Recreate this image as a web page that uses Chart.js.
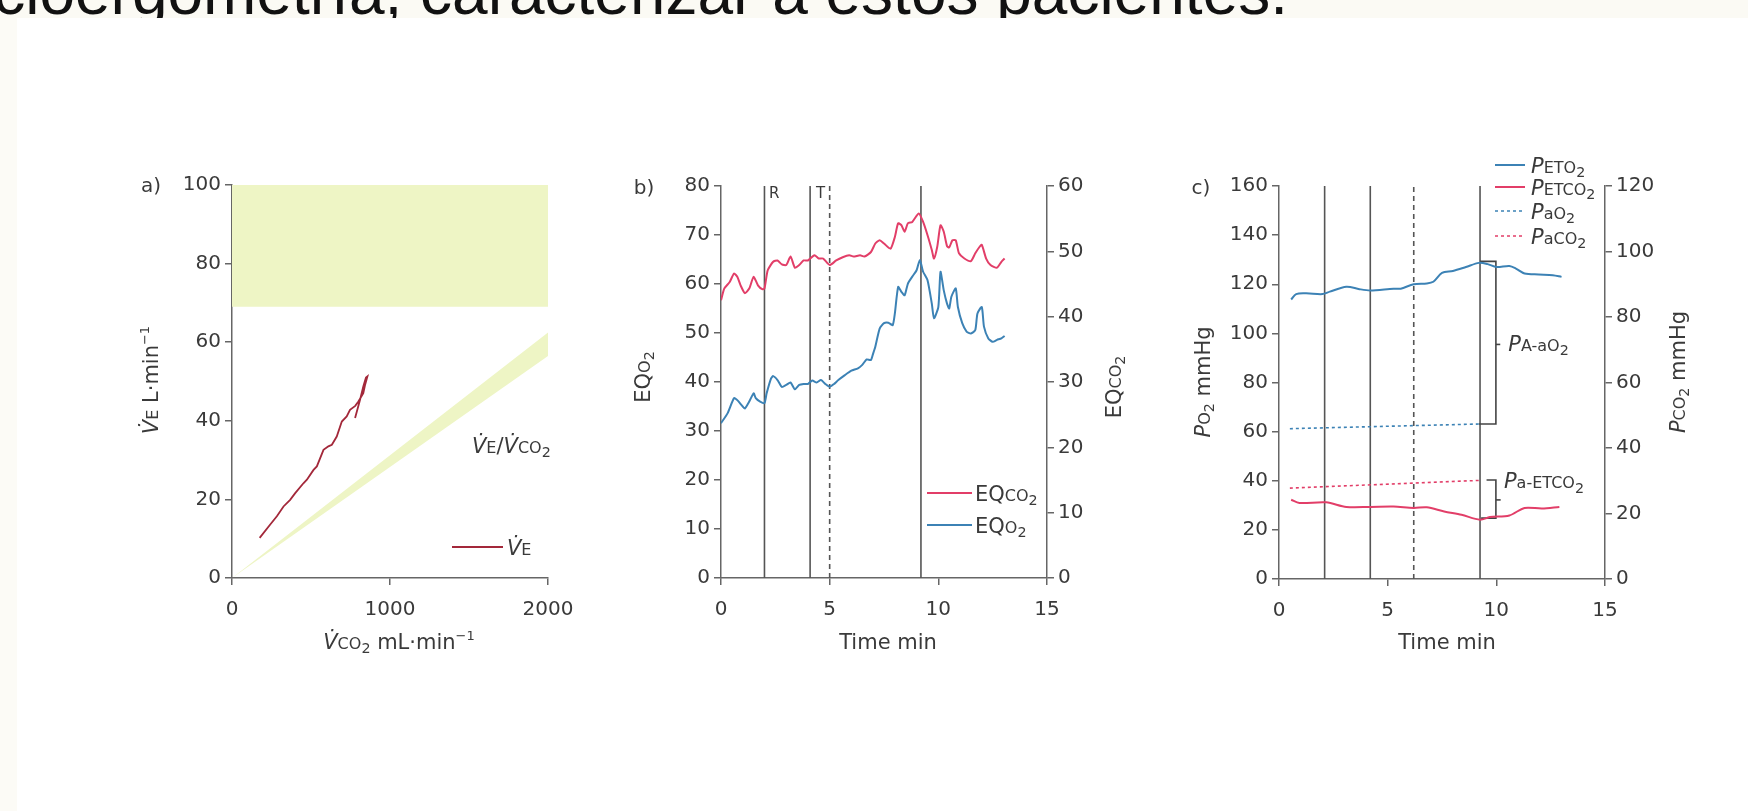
<!DOCTYPE html>
<html>
<head>
<meta charset="utf-8">
<script src="https://cdn.jsdelivr.net/npm/chart.js@4.4.0/dist/chart.umd.min.js"></script>
<style>
    html, body { margin: 0; padding: 0; background: #fff; }
    body { width: 1748px; height: 811px; position: relative; overflow: hidden; }
    #strip { position: absolute; left: 0; top: 0; width: 1748px; height: 18px; background: #fbfaf4; overflow: hidden; }
    #strip span { position: absolute; right: 460px; top: -40px; font: 64px/64px "Liberation Sans", Arial, sans-serif; color: #111; white-space: nowrap; }
    #side { position: absolute; left: 0; top: 18px; width: 17px; bottom: 0; background: #fcfbf6; }
    canvas { position: absolute; }
</style>
</head>
<body>
<div id="strip"><span>cicloergometría, caracterizar a estos pacientes.</span></div>
<div id="side"></div>
<canvas id="chartA" width="473" height="520" style="left:120px;top:140px"></canvas>
<canvas id="chartB" width="510" height="520" style="left:620px;top:140px"></canvas>
<canvas id="chartC" width="588" height="520" style="left:1160px;top:140px"></canvas>
<script>
    /* ─── data: panel a ─── */
    const vco2 = [175, 242, 284, 326, 368, 400, 452, 474, 516, 537, 579, 610, 632, 663, 695, 726, 747, 780, 800, 831, 842, 857, 848, 831, 810, 779];
    const ve = [10.2, 13.6, 15.7, 18.2, 19.9, 21.6, 24.1, 25, 27.5, 28.4, 32.6, 33.5, 33.9, 36, 39.8, 41.1, 42.8, 43.8, 44.9, 47, 49.1, 51.3, 51, 48.7, 45.3, 40.7];
    const bandX = [0, 2000];
    const bandTop = [100, 100];
    const bandBottom = [69, 69];
    const wedgeTop = [0, 62.5];
    const wedgeBottom = [0, 56.5];

    /* ─── data: panel b ─── */
    const tO2 = [0, 0.3, 0.6, 0.75, 1, 1.1, 1.3, 1.5, 1.6, 1.8, 2, 2.1, 2.3, 2.4, 2.6, 2.8, 3, 3.2, 3.4, 3.6, 3.8, 4, 4.2, 4.4, 4.6, 4.8, 5, 5.2, 5.4, 5.7, 6, 6.3, 6.5, 6.7, 6.9, 7, 7.1, 7.3, 7.5, 7.7, 7.9, 8, 8.15, 8.3, 8.45, 8.6, 8.8, 9, 9.15, 9.3, 9.5, 9.7, 9.8, 10, 10.1, 10.25, 10.4, 10.5, 10.6, 10.8, 10.9, 11.1, 11.3, 11.5, 11.7, 11.8, 12, 12.1, 12.3, 12.5, 12.7, 12.9, 13.05];
    const eqo2 = [31.6, 33.6, 36.7, 36.3, 35, 34.6, 36, 37.7, 36.7, 36, 35.7, 37.7, 40.7, 41.2, 40.4, 39, 39.4, 39.9, 38.5, 39.4, 39.6, 39.6, 40.3, 39.9, 40.4, 39.6, 39, 39.6, 40.4, 41.4, 42.3, 42.8, 43.5, 44.6, 44.5, 45.8, 47.2, 50.9, 52, 52.1, 51.6, 54, 59.4, 58.4, 57.7, 60.1, 61.5, 62.8, 64.9, 62.5, 60.8, 56, 53, 55.3, 62.5, 58.7, 56, 55, 57.4, 59.1, 55.3, 52, 50.3, 49.9, 50.6, 54, 55.3, 51.3, 48.9, 48.2, 48.6, 48.9, 49.4];
    const tCO2 = [0, 0.15, 0.4, 0.6, 0.75, 0.9, 1.1, 1.3, 1.5, 1.7, 1.9, 2, 2.15, 2.4, 2.6, 2.8, 3, 3.2, 3.4, 3.6, 3.8, 4, 4.3, 4.5, 4.7, 5, 5.3, 5.6, 5.9, 6.1, 6.4, 6.6, 6.9, 7.1, 7.3, 7.5, 7.8, 8, 8.15, 8.3, 8.45, 8.6, 8.8, 9.1, 9.3, 9.5, 9.7, 9.8, 9.95, 10.1, 10.25, 10.4, 10.5, 10.65, 10.8, 10.95, 11.2, 11.5, 11.7, 11.9, 12, 12.2, 12.4, 12.7, 12.9, 13.05];
    const eqco2 = [42.5, 44.3, 45.3, 46.6, 46.1, 44.8, 43.6, 44.3, 46.1, 44.8, 44.2, 44.3, 47.1, 48.4, 48.6, 48, 47.9, 49.2, 47.5, 47.9, 48.6, 48.6, 49.4, 48.9, 48.9, 47.9, 48.6, 49.1, 49.4, 49.2, 49.4, 49.2, 49.9, 51.2, 51.7, 51.2, 50.4, 52.2, 54.3, 54, 53, 54.3, 54.5, 55.8, 54.5, 52.5, 50.2, 48.9, 50.7, 54, 53, 50.8, 50.6, 51.7, 51.7, 49.7, 48.9, 48.5, 49.7, 50.7, 51, 48.9, 47.9, 47.5, 48.4, 48.9];
    const markersB = [2, 4.1, 5, 9.2];
    const dashedB = 5;

    /* ─── data: panel c ─── */
    const tEtO2 = [0.56, 0.79, 1.25, 2.0, 2.34, 3.1, 3.7, 4.2, 5.27, 5.6, 6.2, 6.8, 7.1, 7.5, 8.0, 8.6, 9.2, 9.6, 10.0, 10.6, 10.9, 11.3, 11.95, 12.6, 13.0];
    const petO2 = [113.8, 116, 116.3, 116, 117, 119, 118, 117.5, 118.2, 118.2, 120, 120.3, 121, 124.6, 125.4, 127, 128.7, 128.2, 127, 127.4, 126.4, 124.4, 124, 123.7, 123];
    const tEtCO2 = [0.56, 0.94, 2.17, 3.1, 4.2, 5.27, 6.2, 6.8, 7.6, 8.4, 9.25, 9.7, 10.6, 11.3, 12.1, 12.9];
    const petCO2 = [24.2, 23.2, 23.4, 22, 22, 22.1, 21.7, 21.9, 20.6, 19.6, 18.1, 18.9, 19.4, 21.7, 21.5, 22];
    const tArt = [0.5, 9.2];
    const paO2 = [61.2, 63.1];
    const paCO2 = [27.75, 30.1];
    const markersC = [2.1, 4.2, 6.2, 9.25];
    const dashedC = 6.2;
    const bracketAaX = [9.25, 9.98, 9.98, 9.2];
    const bracketAaY = [129.3, 129.3, 63.1, 63.1];
    const tickAaX = [9.98, 10.18];
    const tickAaY = [95.5, 95.5];
    const bracketEtX = [9.55, 9.98, 9.98, 9.3];
    const bracketEtY = [40.3, 40.3, 24.8, 24.8];
    const tickEtX = [9.98, 10.2];
    const tickEtY = [32.2, 32.2];

    /* ─── styles ─── */
    const FONT = '"DejaVu Sans", sans-serif';
    const INK = '#3a3a3a';
    const AXIS = '#666';
    const VLINE = '#555';
    const VE_RED = '#a3283a';
    const BLUE = '#3c82b5';
    const RED = '#e23e68';
    const GREEN = '#eef5c5';

    function pts(xs, ys) {
        return xs.map(function(x, i) { return { x: x, y: ys[i] }; });
    }

    function line(data, color, width, extra) {
        return Object.assign({
            data: data, showLine: true, pointRadius: 0, borderColor: color,
            backgroundColor: color, borderWidth: width, tension: 0, fill: false
        }, extra || {});
    }

    function vlines(xs, top, dashedAt, axisId) {
        return xs.map(function(x) {
            return line(pts([x, x], [0, top]), VLINE, 1.6, {
                borderDash: x === dashedAt ? [5, 4] : [], yAxisID: axisId
            });
        });
    }

    function axis(pos, min, max, step, fit) {
        const horizontal = pos === 'bottom';
        return {
            type: 'linear', position: pos, min: min, max: max,
            grid: { drawOnChartArea: false, tickLength: 7, color: AXIS, lineWidth: 1.5 },
            border: { color: AXIS, width: 1.5 },
            ticks: {
                stepSize: step, color: INK, font: { family: FONT, size: 20 },
                padding: horizontal ? 13 : 4, maxRotation: 0, autoSkip: false,
                callback: function(v) { return String(v); }
            },
            afterFit: function(s) {
                if (s.isHorizontal()) s.height = fit; else s.width = fit;
            }
        };
    }

    function baseOptions(scales, pad) {
        return {
            responsive: false, animation: false, events: [],
            layout: { padding: pad },
            plugins: { legend: { display: false }, tooltip: { enabled: false } },
            scales: scales
        };
    }

    // draws text made of parts: '' normal, 'i' italic, 's' small caps, 'b' subscript, 'p' superscript
    function rich(ctx, x, y, parts, opts) {
        opts = opts || {};
        const size = opts.size || 21;
        ctx.save();
        ctx.translate(x, y);
        if (opts.rotate) ctx.rotate(opts.rotate);
        ctx.fillStyle = opts.color || INK;
        ctx.textBaseline = 'alphabetic';
        const specs = parts.map(function(p) {
            const st = p[1] || '';
            let s = size, dy = 0, style = '';
            if (st.indexOf('i') >= 0) style = 'italic ';
            if (st.indexOf('s') >= 0) s = size * 0.76;
            if (st.indexOf('b') >= 0) { s = size * 0.68; dy = size * 0.22; }
            if (st.indexOf('p') >= 0) { s = size * 0.62; dy = -size * 0.42; }
            const font = style + s.toFixed(1) + 'px ' + FONT;
            ctx.font = font;
            return { t: p[0], font: font, dy: dy, w: ctx.measureText(p[0]).width };
        });
        const total = specs.reduce(function(a, s) { return a + s.w; }, 0);
        let cx = opts.align === 'left' ? 0 : opts.align === 'right' ? -total : -total / 2;
        specs.forEach(function(s) {
            ctx.font = s.font;
            ctx.fillText(s.t, cx, size * 0.36 + s.dy);
            cx += s.w;
        });
        ctx.restore();
    }

    function legendLine(ctx, x1, x2, y, color, dash) {
        ctx.save();
        ctx.strokeStyle = color;
        ctx.lineWidth = dash ? 1.6 : 2;
        ctx.setLineDash(dash || []);
        ctx.beginPath();
        ctx.moveTo(x1, y);
        ctx.lineTo(x2, y);
        ctx.stroke();
        ctx.restore();
    }

    const UP = -Math.PI / 2;
    const VDOT = 'V\u0307';

    /* ─── 1. Panel a ─── */
    new Chart(document.getElementById('chartA'), {
        type: 'scatter',
        data: {
            datasets: [
                line(pts(vco2, ve), VE_RED, 1.8),
                line(pts(bandX, bandTop), GREEN, 0),
                line(pts(bandX, bandBottom), GREEN, 0, { fill: '-1' }),
                line(pts(bandX, wedgeTop), GREEN, 0),
                line(pts(bandX, wedgeBottom), GREEN, 0, { fill: '-1' })
            ]
        },
        options: baseOptions({
            x: axis('bottom', 0, 2000, 1000, 82),
            y: axis('left', 0, 100, 20, 112)
        }, { top: 45, right: 45, left: 0, bottom: 0 }),
        plugins: [{
            id: 'textA',
            afterDraw: function(chart) {
                const ctx = chart.ctx;
                rich(ctx, 31, 45, [['a)', '']], { size: 20 });
                rich(ctx, 30, 240, [[VDOT, 'i'], ['E', 's'], [' L·min', ''], ['−1', 'p']], { rotate: UP });
                rich(ctx, 279, 501, [[VDOT, 'i'], ['CO', 's'], ['2', 'b'], [' mL·min', ''], ['−1', 'p']]);
                rich(ctx, 352, 305, [[VDOT, 'i'], ['E', 's'], ['/', ''], [VDOT, 'i'], ['CO', 's'], ['2', 'b']], { align: 'left' });
                legendLine(ctx, 332, 383, 407, VE_RED);
                rich(ctx, 387, 407, [[VDOT, 'i'], ['E', 's']], { align: 'left' });
            }
        }]
    });

    /* ─── 2. Panel b ─── */
    new Chart(document.getElementById('chartB'), {
        type: 'scatter',
        data: {
            datasets: [
                line(pts(tCO2, eqco2), RED, 2, { yAxisID: 'y2', tension: 0.2 }),
                line(pts(tO2, eqo2), BLUE, 2, { yAxisID: 'y', tension: 0.2 })
            ].concat(vlines(markersB, 80, dashedB, 'y'))
        },
        options: baseOptions({
            x: axis('bottom', 0, 15, 5, 82),
            y: axis('left', 0, 80, 10, 101),
            y2: axis('right', 0, 60, 10, 83)
        }, { top: 46, right: 0, left: 0, bottom: 0 }),
        plugins: [{
            id: 'textB',
            afterDraw: function(chart) {
                const ctx = chart.ctx;
                rich(ctx, 24, 47, [['b)', '']], { size: 20 });
                rich(ctx, 22, 237, [['EQ', ''], ['O', 's'], ['2', 'b']], { rotate: UP });
                rich(ctx, 493, 247, [['EQ', ''], ['CO', 's'], ['2', 'b']], { rotate: UP });
                rich(ctx, 268, 501, [['Time min', '']]);
                rich(ctx, 149, 53, [['R', '']], { size: 15, align: 'left' });
                rich(ctx, 196, 53, [['T', '']], { size: 15, align: 'left' });
                legendLine(ctx, 307, 352, 353, RED);
                legendLine(ctx, 307, 352, 385, BLUE);
                rich(ctx, 355, 353, [['EQ', ''], ['CO', 's'], ['2', 'b']], { align: 'left' });
                rich(ctx, 355, 385, [['EQ', ''], ['O', 's'], ['2', 'b']], { align: 'left' });
            }
        }]
    });

    /* ─── 3. Panel c ─── */
    new Chart(document.getElementById('chartC'), {
        type: 'scatter',
        data: {
            datasets: [
                line(pts(tEtO2, petO2), BLUE, 2, { tension: 0.3 }),
                line(pts(tEtCO2, petCO2), RED, 2, { yAxisID: 'y2', tension: 0.3 }),
                line(pts(tArt, paO2), BLUE, 1.6, { borderDash: [3, 3] }),
                line(pts(tArt, paCO2), RED, 1.6, { yAxisID: 'y2', borderDash: [3, 3] }),
                line(pts(bracketAaX, bracketAaY), '#444', 1.6),
                line(pts(tickAaX, tickAaY), '#444', 1.6),
                line(pts(bracketEtX, bracketEtY), '#444', 1.6),
                line(pts(tickEtX, tickEtY), '#444', 1.6)
            ].concat(vlines(markersC, 160, dashedC, 'y'))
        },
        options: baseOptions({
            x: axis('bottom', 0, 15, 5, 81),
            y: axis('left', 0, 160, 20, 119),
            y2: axis('right', 0, 120, 20, 143)
        }, { top: 46, right: 0, left: 0, bottom: 0 }),
        plugins: [{
            id: 'textC',
            afterDraw: function(chart) {
                const ctx = chart.ctx;
                const sx = chart.scales.x, sy = chart.scales.y;
                rich(ctx, 41, 47, [['c)', '']], { size: 20 });
                rich(ctx, 42, 242, [['P', 'i'], ['O', 's'], ['2', 'b'], [' mmHg', '']], { rotate: UP });
                rich(ctx, 517, 232, [['P', 'i'], ['CO', 's'], ['2', 'b'], [' mmHg', '']], { rotate: UP });
                rich(ctx, 287, 501, [['Time min', '']]);
                legendLine(ctx, 335, 365, 25, BLUE);
                legendLine(ctx, 335, 365, 47, RED);
                legendLine(ctx, 335, 365, 71, BLUE, [3, 3]);
                legendLine(ctx, 335, 365, 96, RED, [3, 3]);
                rich(ctx, 371, 25, [['P', 'i'], ['ETO', 's'], ['2', 'b']], { align: 'left' });
                rich(ctx, 371, 47, [['P', 'i'], ['ETCO', 's'], ['2', 'b']], { align: 'left' });
                rich(ctx, 371, 71, [['P', 'i'], ['aO', 's'], ['2', 'b']], { align: 'left' });
                rich(ctx, 371, 96, [['P', 'i'], ['aCO', 's'], ['2', 'b']], { align: 'left' });
                rich(ctx, sx.getPixelForValue(10.55), sy.getPixelForValue(96),
                    [['P', 'i'], ['A-aO', 's'], ['2', 'b']], { align: 'left' });
                rich(ctx, sx.getPixelForValue(10.35), sy.getPixelForValue(40),
                    [['P', 'i'], ['a-ETCO', 's'], ['2', 'b']], { align: 'left' });
            }
        }]
    });
</script>
</body>
</html>
